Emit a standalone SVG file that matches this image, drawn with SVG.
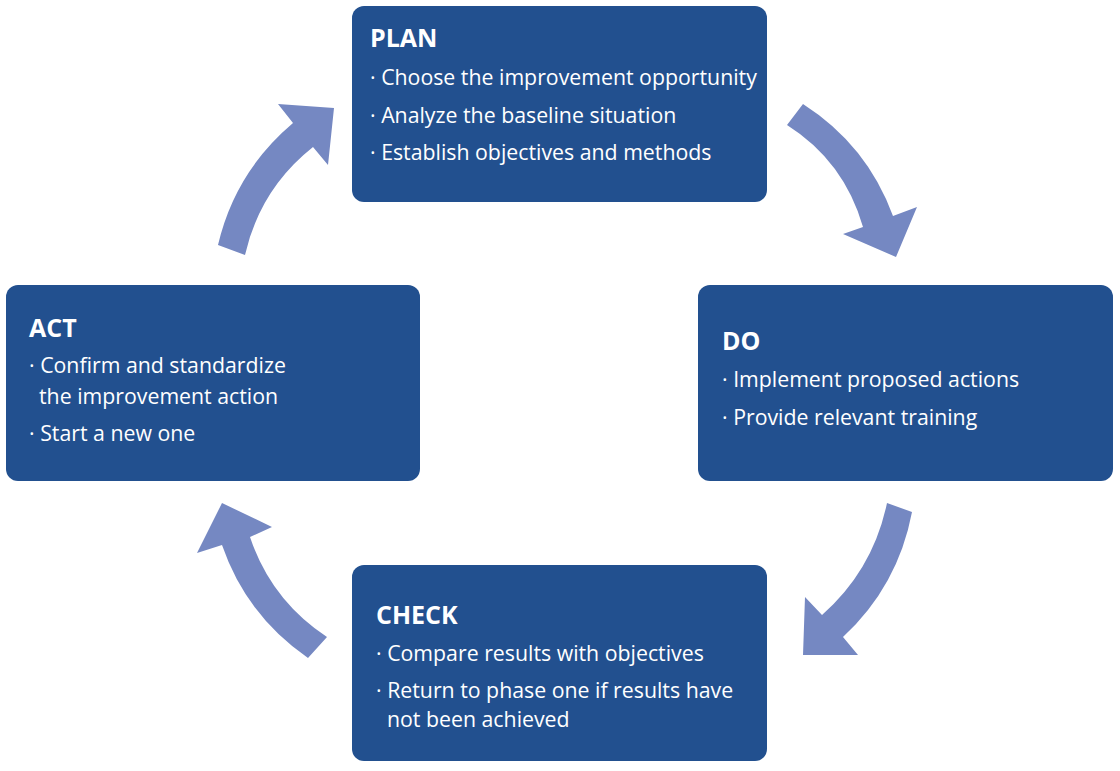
<svg xmlns="http://www.w3.org/2000/svg" width="1120" height="771" viewBox="0 0 1120 771">
<style>
.box{fill:#22508f}
.t{font-family:"Open Sans","Liberation Sans",sans-serif;font-size:25px;font-weight:bold;fill:#ffffff}
.b{font-family:"Open Sans","Liberation Sans",sans-serif;font-size:21.3px;fill:#ffffff}
.arr{fill:#7588c2}
</style>
<rect width="1120" height="771" fill="#ffffff"/>
<g id="connectors">
<path class="arr" d="M787,125 L803,104 Q867,145 893,216 L917,207 L896,257 L843,234 L863,227 Q844,161 787,125 Z"/>
<path class="arr" d="M887,503 L912,512 Q898,586 843,637 L858,655 L803,655 L805,597 L822,615 Q873,570 887,503 Z"/>
<path class="arr" d="M327,637 L308,658 Q246,615 222,545 L197,553 L222,503 L272,527 L250,537 Q271,600 327,637 Z"/>
<path class="arr" d="M218,245 L245,255 Q260,189 313,147 L328,165 L334,108 L278,104 L293,123 Q235,172 218,245 Z"/>
</g>
<g id="plan">
<rect class="box" x="352" y="6" width="415" height="196" rx="12"/>
<text class="t" x="370" y="47">PLAN</text>
<text class="b" x="370" y="85">· Choose the improvement opportunity</text>
<text class="b" x="370" y="123">· Analyze the baseline situation</text>
<text class="b" x="370" y="160">· Establish objectives and methods</text>
</g>
<g id="do">
<rect class="box" x="698" y="285" width="415" height="196" rx="12"/>
<text class="t" x="722" y="350">DO</text>
<text class="b" x="722" y="387">· Implement proposed actions</text>
<text class="b" x="722" y="425">· Provide relevant training</text>
</g>
<g id="check">
<rect class="box" x="352" y="565" width="415" height="196" rx="12"/>
<text class="t" x="376" y="624">CHECK</text>
<text class="b" x="376" y="661">· Compare results with objectives</text>
<text class="b" x="376" y="698">· Return to phase one if results have</text>
<text class="b" x="387" y="727">not been achieved</text>
</g>
<g id="act">
<rect class="box" x="6" y="285" width="414" height="196" rx="12"/>
<text class="t" x="29" y="337">ACT</text>
<text class="b" x="29" y="373">· Confirm and standardize</text>
<text class="b" x="39" y="404">the improvement action</text>
<text class="b" x="29" y="441">· Start a new one</text>
</g>
</svg>
